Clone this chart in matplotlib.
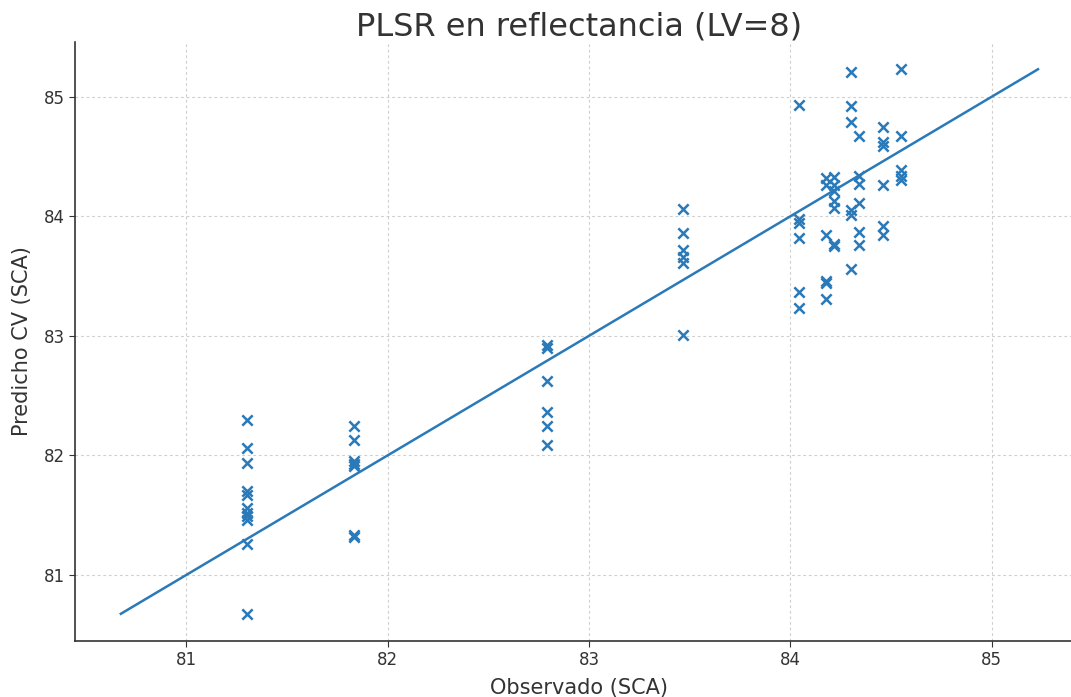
import numpy as np
import matplotlib
matplotlib.use("Agg")
import matplotlib.pyplot as plt

# Observed vs cross-validated predicted SCA, grouped by observed value
obs_groups = [81.30, 81.835, 82.79, 83.465, 84.045, 84.175, 84.215, 84.30, 84.34, 84.46, 84.55]
pred_groups = [
    [82.30, 82.06, 81.935, 81.70, 81.67, 81.56, 81.52, 81.49, 81.46, 81.26, 80.675],
    [82.25, 82.13, 81.95, 81.93, 81.91, 81.33, 81.32],
    [82.92, 82.90, 82.62, 82.36, 82.25, 82.09],
    [84.06, 83.86, 83.72, 83.66, 83.61, 83.01],
    [84.93, 83.98, 83.94, 83.82, 83.37, 83.23],
    [84.32, 84.26, 83.84, 83.46, 83.44, 83.31],
    [84.33, 84.26, 84.21, 84.13, 84.07, 83.77, 83.75],
    [85.21, 84.92, 84.79, 84.05, 84.01, 83.56],
    [84.67, 84.34, 84.27, 84.11, 83.87, 83.76],
    [84.75, 84.62, 84.59, 84.26, 83.92, 83.84],
    [85.23, 84.67, 84.39, 84.34, 84.30],
]

observed = np.concatenate([[o] * len(p) for o, p in zip(obs_groups, pred_groups)])
predicted = np.concatenate(pred_groups)

title = "PLSR en reflectancia (LV=8)"
xlabel = "Observado (SCA)"
ylabel = "Predicho CV (SCA)"
ticks = [81, 82, 83, 84, 85]

fig = plt.figure(figsize=(10.71, 6.97), dpi=100)
ax = fig.add_axes([0.070, 0.0803, 0.942, 0.8594])

color = "#2a7ab9"
ax.scatter(observed, predicted, marker="x", s=55, linewidths=1.8, color=color, zorder=3)

lo = min(observed.min(), predicted.min())
hi = max(observed.max(), predicted.max())
ax.plot([lo, hi], [lo, hi], color=color, linewidth=1.8, zorder=2)

ax.set_xticks(ticks)
ax.set_yticks(ticks)
ax.tick_params(labelsize=12, colors="#333333", length=4)
ax.grid(True, linestyle=(0, (2.5, 2.5)), color="#cfcfcf", linewidth=0.8, zorder=0)
ax.set_axisbelow(True)

for side in ("top", "right"):
    ax.spines[side].set_visible(False)
for side in ("left", "bottom"):
    ax.spines[side].set_color("#333333")
    ax.spines[side].set_linewidth(1.2)

ax.set_title(title, fontsize=23, color="#333333", pad=4)
ax.set_xlabel(xlabel, fontsize=15, color="#333333", labelpad=6)
ax.set_ylabel(ylabel, fontsize=15, color="#333333", labelpad=8)

fig.savefig("out.png", dpi=100)
